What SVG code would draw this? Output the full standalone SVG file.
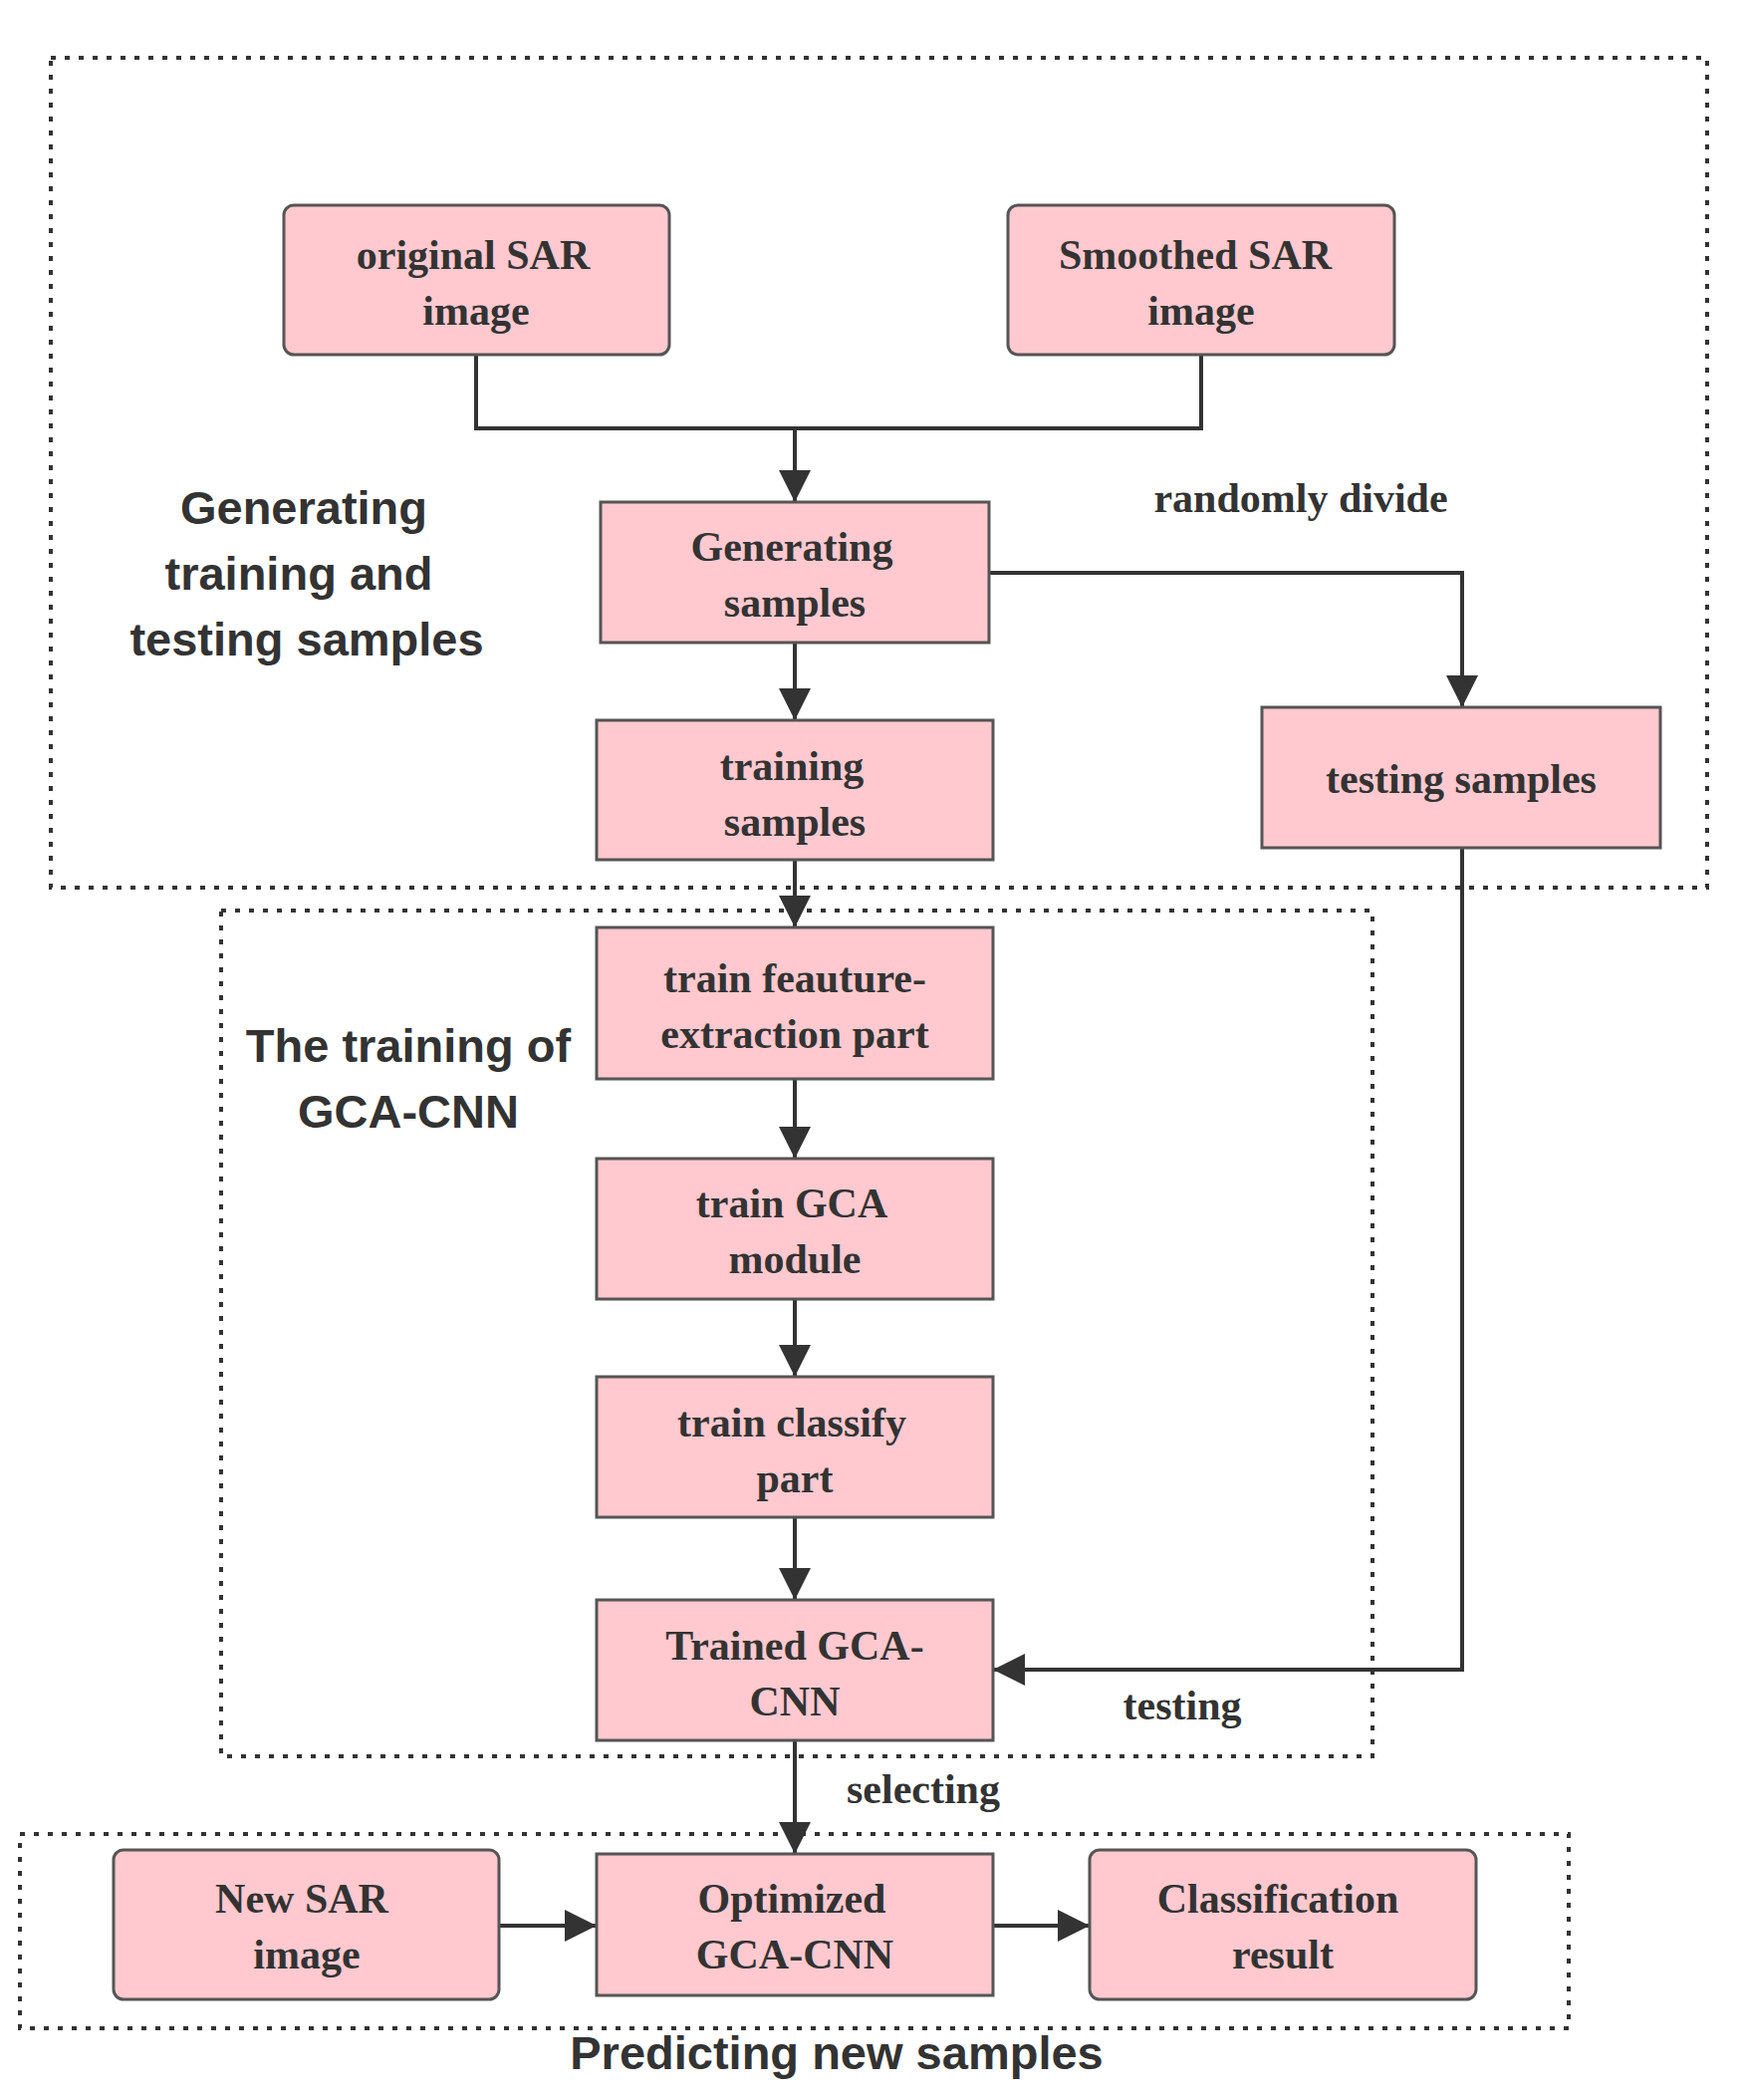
<svg xmlns="http://www.w3.org/2000/svg" width="1750" height="2108" viewBox="0 0 1750 2108">
<style>
.n{fill:#ffc9cf;stroke:#555;stroke-width:3}
.t{font-family:"Liberation Serif",serif;font-weight:bold;font-size:42px;fill:#333;text-anchor:middle}
.g{font-family:"Liberation Sans",sans-serif;font-weight:bold;font-size:47px;fill:#333;text-anchor:middle}
.c{fill:none;stroke:#333;stroke-width:4}
.d{fill:none;stroke:#333;stroke-width:4;stroke-dasharray:5 9}
</style>
<defs><marker id="a" markerWidth="8" markerHeight="8" refX="7" refY="4" orient="auto" markerUnits="userSpaceOnUse" viewBox="0 0 8 8"><path d="M0,0L8,4L0,8z" fill="#333"/></marker>
<marker id="m" viewBox="0 0 10 10" refX="10" refY="5" markerWidth="32" markerHeight="32" markerUnits="userSpaceOnUse" orient="auto"><path d="M0,0L10,5L0,10z" fill="#333"/></marker></defs>
<rect width="1750" height="2108" fill="#fff"/>
<g id="groups">
<rect class="d" x="51" y="58" width="1663" height="833"/>
<rect class="d" x="222" y="914" width="1156" height="849"/>
<rect class="d" x="20" y="1841" width="1555" height="195"/>
<text class="g" x="305" y="526">Generating</text>
<text class="g" x="300" y="592">training and</text>
<text class="g" x="308" y="658">testing samples</text>
<text class="g" x="410" y="1066">The training of</text>
<text class="g" x="410" y="1132">GCA-CNN</text>
<text class="g" x="840" y="2077">Predicting new samples</text>
</g>
<g id="connectors">
<path class="c" d="M478,356V430H1206V356"/>
<path class="c" d="M798,430V504" marker-end="url(#m)"/>
<path class="c" d="M993,575H1468V710" marker-end="url(#m)"/>
<path class="c" d="M798,645V723" marker-end="url(#m)"/>
<path class="c" d="M798,863V931" marker-end="url(#m)"/>
<path class="c" d="M798,1083V1163" marker-end="url(#m)"/>
<path class="c" d="M798,1304V1382" marker-end="url(#m)"/>
<path class="c" d="M798,1523V1606" marker-end="url(#m)"/>
<path class="c" d="M1468,851V1676H997" marker-end="url(#m)"/>
<path class="c" d="M798,1747V1861" marker-end="url(#m)"/>
<path class="c" d="M501,1933H599" marker-end="url(#m)"/>
<path class="c" d="M997,1933H1094" marker-end="url(#m)"/>
<text class="t" x="1306" y="514">randomly divide</text>
<text class="t" x="1187" y="1726">testing</text>
<text class="t" x="927" y="1810">selecting</text>
</g>
<g id="n1"><rect class="n" x="285" y="206" width="387" height="150" rx="10"/><text class="t" x="475" y="270">original SAR</text><text class="t" x="478" y="326">image</text></g>
<g id="n2"><rect class="n" x="1012" y="206" width="388" height="150" rx="10"/><text class="t" x="1200" y="270">Smoothed SAR</text><text class="t" x="1206" y="326">image</text></g>
<g id="n3"><rect class="n" x="603" y="504" width="390" height="141"/><text class="t" x="795" y="563">Generating</text><text class="t" x="798" y="619">samples</text></g>
<g id="n4"><rect class="n" x="599" y="723" width="398" height="140"/><text class="t" x="795" y="783">training</text><text class="t" x="798" y="839">samples</text></g>
<g id="n5"><rect class="n" x="1267" y="710" width="400" height="141"/><text class="t" x="1467" y="796">testing samples</text></g>
<g id="n6"><rect class="n" x="599" y="931" width="398" height="152"/><text class="t" x="798" y="996">train feauture-</text><text class="t" x="798" y="1052">extraction part</text></g>
<g id="n7"><rect class="n" x="599" y="1163" width="398" height="141"/><text class="t" x="795" y="1222">train GCA</text><text class="t" x="798" y="1278">module</text></g>
<g id="n8"><rect class="n" x="599" y="1382" width="398" height="141"/><text class="t" x="795" y="1442">train classify</text><text class="t" x="798" y="1498">part</text></g>
<g id="n9"><rect class="n" x="599" y="1606" width="398" height="141"/><text class="t" x="798" y="1666">Trained GCA-</text><text class="t" x="798" y="1722">CNN</text></g>
<g id="n10"><rect class="n" x="114" y="1857" width="387" height="150" rx="10"/><text class="t" x="303" y="1920">New SAR</text><text class="t" x="308" y="1976">image</text></g>
<g id="n11"><rect class="n" x="599" y="1861" width="398" height="142"/><text class="t" x="795" y="1920">Optimized</text><text class="t" x="798" y="1976">GCA-CNN</text></g>
<g id="n12"><rect class="n" x="1094" y="1857" width="388" height="150" rx="10"/><text class="t" x="1283" y="1920">Classification</text><text class="t" x="1288" y="1976">result</text></g>
</svg>
